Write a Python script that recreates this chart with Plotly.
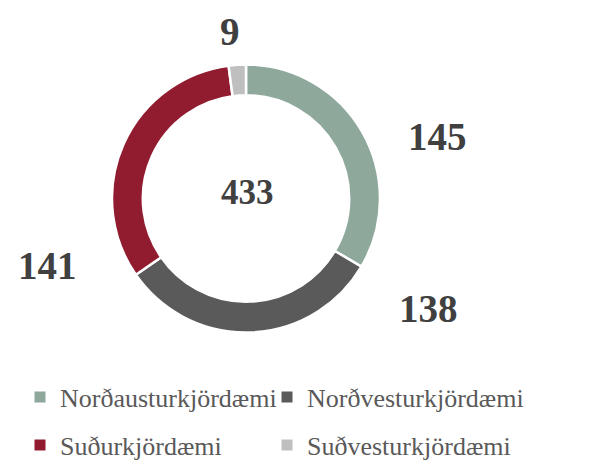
import plotly.graph_objects as go

categories = ["Norðausturkjördæmi", "Norðvesturkjördæmi", "Suðurkjördæmi", "Suðvesturkjördæmi"]
values = [145, 138, 141, 9]
colors = ["#8FA89C", "#5A5A5A", "#921C2F", "#BFBFBF"]
total_label = "433"

W, H = 610, 465
OFF = 8  # page body margin shifts the figure by this many pixels

def px_x(x):
    return (x - OFF) / W

def px_y(y):
    return 1 - (y - OFF) / H

# label positions (target pixels) for each value label
label_px = [(437, 137), (428, 308), (47, 265), (230, 27)]
# legend positions (target pixels of item marker centre)
legend_px = [(40, 397), (287, 397), (40, 445), (287, 445)]

cx, cy, r = 246, 198.5, 134

fig = go.Figure()
fig.add_trace(go.Pie(
    labels=categories, values=values, sort=False, direction="clockwise", rotation=0,
    hole=0.77, textinfo="none", hoverinfo="label+value",
    marker=dict(colors=colors, line=dict(color="white", width=2.5)),
    domain=dict(x=[px_x(cx - r), px_x(cx + r)], y=[px_y(cy + r), px_y(cy - r)]),
    showlegend=False,
))

legend_names = ["legend", "legend2", "legend3", "legend4"]
for cat, col, lg in zip(categories, colors, legend_names):
    fig.add_trace(go.Scatter(
        x=[None], y=[None], mode="markers", name=cat, legend=lg,
        marker=dict(symbol="square", size=11, color=col),
        showlegend=True,
    ))

for v, (lx, ly) in zip(values, label_px):
    top = (ly - OFF) < 30
    fig.add_annotation(x=px_x(lx), y=1.0 if top else px_y(ly), xref="paper", yref="paper", text=str(v),
                       showarrow=False,
                       font=dict(family="Liberation Serif", size=39, color="#404040", weight="bold"),
                       xanchor="center", yanchor="top" if top else "middle")
fig.add_annotation(x=px_x(cx + 1), y=px_y(192), xref="paper", yref="paper", text=total_label, showarrow=False,
                   font=dict(family="Liberation Serif", size=35, color="#404040", weight="bold"),
                   xanchor="center", yanchor="middle")

leg_common = dict(orientation="h", xanchor="left", yanchor="middle",
                  font=dict(family="Liberation Serif", size=26, color="#595959"),
                  bgcolor="rgba(0,0,0,0)", itemclick=False, itemdoubleclick=False)
legends = {}
for lg, (lx, ly) in zip(legend_names, legend_px):
    legends[lg] = dict(x=px_x(lx - 20), y=px_y(ly), **leg_common)

fig.update_layout(
    width=W, height=H, margin=dict(l=0, r=0, t=0, b=0),
    paper_bgcolor="white", plot_bgcolor="white",
    xaxis=dict(visible=False), yaxis=dict(visible=False),
    hovermode=False,
    **legends,
)
fig.write_html("out.html")
